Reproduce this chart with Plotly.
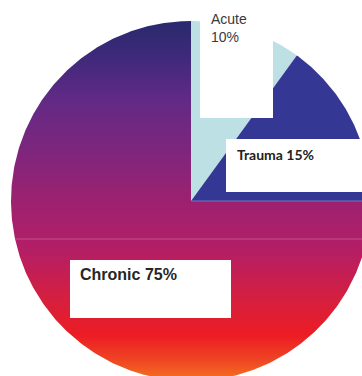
import numpy as np
import plotly.graph_objects as go

# ---- data ----
categories = ["Acute", "Trauma", "Chronic"]
values = [10, 15, 75]
labels = ["Acute<br>10%", "<b>Trauma 15%</b>", "<b>Chronic 75%</b>"]

# ---- layout constants (pixel space) ----
W, H = 362, 376
CX, CY, R = 191, 201, 180

colors = {"Acute": "#bde0e4", "Trauma": "#343894"}
chronic_scale = [
    [0.0, "#f47420"], [0.058, "#ef4523"], [0.128, "#ec1c24"], [0.225, "#d61f3e"],
    [0.364, "#b41e66"], [0.503, "#9c2170"], [0.614, "#83257b"], [0.78, "#622a85"],
    [0.892, "#41297b"], [1.0, "#29296e"],
]

fig = go.Figure()

total = float(sum(values))
cum = np.cumsum([0] + values) / total * 2 * np.pi
for i, cat in enumerate(categories):
    a0, a1 = cum[i], cum[i + 1]
    n = max(int((a1 - a0) / (2 * np.pi) * 720), 8)
    th = np.linspace(a0, a1, n)
    xs = np.concatenate([[CX], CX + R * np.sin(th), [CX]])
    ys = np.concatenate([[CY], CY - R * np.cos(th), [CY]])
    kw = dict(x=xs, y=ys, mode="lines", fill="toself", line=dict(width=0),
              hoverinfo="skip", showlegend=False, name=cat)
    if cat == "Chronic":
        kw["fillgradient"] = dict(type="vertical", colorscale=chronic_scale,
                                  start=CY + R, stop=CY - R)
        kw["fillcolor"] = "#9c2170"
    else:
        kw["fillcolor"] = colors[cat]
    fig.add_trace(go.Scatter(**kw))

# slice border between Trauma and Chronic
ab = cum[2]
fig.add_trace(go.Scatter(x=[CX, CX + R * np.sin(ab)], y=[CY, CY - R * np.cos(ab)],
                         mode="lines", line=dict(color="#7a72c0", width=1),
                         hoverinfo="skip", showlegend=False))
# faint gradient seam
sy = 239
half = np.sqrt(R**2 - (sy - CY) ** 2)
fig.add_trace(go.Scatter(x=[CX - half, CX + half], y=[sy, sy], mode="lines",
                         line=dict(color="#c2508c", width=1),
                         hoverinfo="skip", showlegend=False))

# white label boxes
boxes = [(200, -5, 273, 118), (226, 139, 370, 192), (70, 260, 231, 318)]
for x0, y0, x1, y1 in boxes:
    fig.add_shape(type="rect", x0=x0, y0=y0, x1=x1, y1=y1, xref="x", yref="y",
                  fillcolor="white", line=dict(width=0), layer="above")

fig.add_annotation(x=209, y=9, text=labels[0], showarrow=False, xanchor="left",
                   yanchor="top", align="left",
                   font=dict(family="Liberation Sans, Arial", size=14, color="#3a3a3a"))
fig.add_annotation(x=235, y=144, text=labels[1], showarrow=False, xanchor="left",
                   yanchor="top", align="left",
                   font=dict(family="Lato", size=14, color="#222222"))
fig.add_annotation(x=78, y=264, text=labels[2], showarrow=False, xanchor="left",
                   yanchor="top", align="left",
                   font=dict(family="Liberation Sans, Arial", size=16, color="#262626"))

fig.update_xaxes(range=[0, W], visible=False, fixedrange=True)
fig.update_yaxes(range=[H, 0], visible=False, fixedrange=True)
fig.update_layout(width=W, height=H, margin=dict(l=0, r=0, t=0, b=0),
                  paper_bgcolor="white", plot_bgcolor="white")

fig.write_html("out.html")
